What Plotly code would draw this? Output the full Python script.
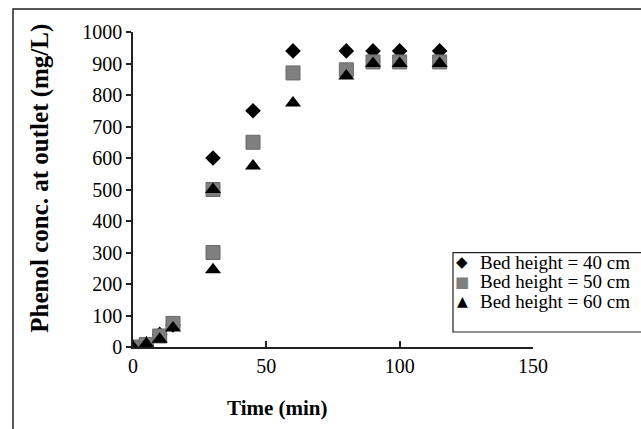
import plotly.graph_objects as go

# Breakthrough data: outlet phenol concentration vs time for three bed heights
time_40 = [0, 5, 10, 15, 30, 45, 60, 80, 90, 100, 115]
conc_40 = [0, 10, 40, 70, 600, 750, 940, 940, 940, 940, 940]

time_50 = [0, 5, 10, 15, 30, 30, 45, 60, 80, 90, 100, 115]
conc_50 = [0, 8, 35, 75, 300, 500, 650, 870, 880, 905, 905, 905]

time_60 = [0, 5, 10, 15, 30, 30, 45, 60, 80, 90, 100, 115]
conc_60 = [0, 10, 25, 60, 245, 500, 575, 775, 860, 900, 900, 900]

series_names = ["Bed height = 40 cm", "Bed height = 50 cm", "Bed height = 60 cm"]
x_ticks = [0, 50, 100, 150]
y_ticks = list(range(0, 1001, 100))

FONT = "Liberation Serif, Times New Roman, serif"
AXIS_COLOR = "#222222"

fig = go.Figure()

fig.add_trace(go.Scatter(
    x=time_40, y=conc_40, mode="markers", name=series_names[0],
    marker=dict(symbol="diamond", size=12, color="black", line=dict(width=0)),
    showlegend=False,
))
fig.add_trace(go.Scatter(
    x=time_50, y=conc_50, mode="markers", name=series_names[1],
    marker=dict(symbol="square", size=14, color="#7f7f7f",
                line=dict(width=1, color="#6a6a6a")),
    showlegend=False,
))
fig.add_trace(go.Scatter(
    x=time_60, y=conc_60, mode="markers", name=series_names[2],
    marker=dict(symbol="triangle-up", size=14, color="black", line=dict(width=0)),
    showlegend=False,
))

# Outer frame around the chart
fig.add_shape(type="rect", xref="paper", yref="paper",
              x0=-0.3, x1=1.6, y0=-0.6, y1=1.073,
              line=dict(color=AXIS_COLOR, width=1.5), layer="below")

# Legend box and entries
fig.add_shape(type="rect", xref="paper", yref="paper",
              x0=0.8, x1=1.6, y0=0.0476, y1=0.2994,
              line=dict(color=AXIS_COLOR, width=1.2), fillcolor="white")

legend_rows = [0.269, 0.207, 0.145]
legend_glyphs = [("◆", "black", 15), ("■", "#7f7f7f", 15), ("▲", "black", 14)]
for name, row, (glyph, col, gsize) in zip(series_names, legend_rows, legend_glyphs):
    fig.add_annotation(xref="paper", yref="paper", x=0.8225, y=row,
                       text=glyph, showarrow=False, xanchor="center", yanchor="middle",
                       font=dict(family="DejaVu Sans", size=gsize, color=col))
    fig.add_annotation(xref="paper", yref="paper", x=0.862, y=row,
                       text=name, showarrow=False, xanchor="left", yanchor="middle",
                       font=dict(family=FONT, size=19, color="black"))

# Axis titles
fig.add_annotation(xref="paper", yref="paper", x=0.36, y=-0.194,
                   text="<b>Time (min)</b>", showarrow=False,
                   xanchor="center", yanchor="middle",
                   font=dict(family=FONT, size=21, color="black"))
fig.add_annotation(xref="paper", yref="paper", x=-0.232, y=0.535,
                   text="<b>Phenol conc. at outlet (mg/L)</b>", showarrow=False,
                   textangle=-90, xanchor="center", yanchor="middle",
                   font=dict(family=FONT, size=25, color="black"))

fig.update_layout(
    width=641, height=429,
    margin=dict(l=133, r=108, t=32, b=82),
    paper_bgcolor="white", plot_bgcolor="white",
    font=dict(family=FONT, size=20, color="black"),
    showlegend=False,
)
fig.update_xaxes(
    range=[0, 150], tickvals=x_ticks, ticktext=[str(v) for v in x_ticks],
    showgrid=False, zeroline=False,
    showline=True, linecolor=AXIS_COLOR, linewidth=1.5,
    ticks="inside", ticklen=6, tickwidth=1.5, tickcolor=AXIS_COLOR,
    tickfont=dict(family=FONT, size=20, color="black"),
)
fig.update_yaxes(
    range=[0, 1000], tickvals=y_ticks, ticktext=[str(v) for v in y_ticks],
    showgrid=False, zeroline=False,
    showline=True, linecolor=AXIS_COLOR, linewidth=1.5,
    ticks="outside", ticklen=5, tickwidth=1.5, tickcolor=AXIS_COLOR,
    tickfont=dict(family=FONT, size=20, color="black"),
)

fig.write_html("out.html")
